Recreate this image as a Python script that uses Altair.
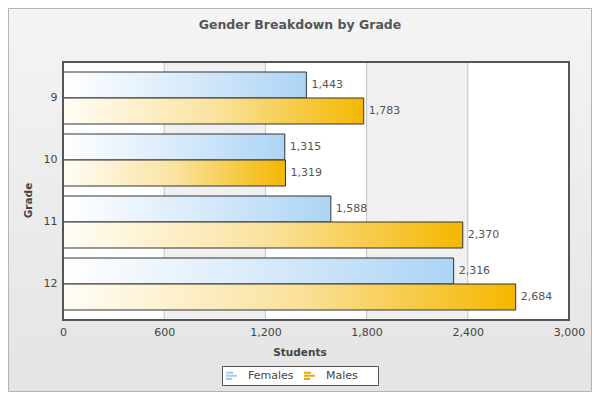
import altair as alt
import pandas as pd

# ---- data ----
grades = ["9", "10", "11", "12"]
females = [1443, 1315, 1588, 2316]
males = [1783, 1319, 2370, 2684]
genders = ["Females", "Males"]
x_ticks = [0, 600, 1200, 1800, 2400, 3000]
band_starts = [0, 600, 1200, 1800, 2400]
band_ends = [600, 1200, 1800, 2400, 3000]
band_fill = ["#ffffff", "#f0f0f0", "#ffffff", "#f0f0f0", "#ffffff"]
grid_vals = [600, 1200, 1800, 2400]
title_text = "Gender Breakdown by Grade"

rows = []
for g, f, m in zip(grades, females, males):
    rows.append({"Grade": g, "Gender": "Females", "Students": f})
    rows.append({"Grade": g, "Gender": "Males", "Students": m})
df = pd.DataFrame(rows)

bands = pd.DataFrame({"start": band_starts, "end": band_ends, "fill": band_fill})
grid = pd.DataFrame({"v": grid_vals})

W, H = 506, 258
PL, PT = 55, 54
TOTW, TOTH = 584, 384
PR, PB = TOTW - PL - W, TOTH - PT - H
FONT = "DejaVu Sans"

xscale = alt.Scale(domain=[0, 3000], nice=False, zero=True)
x_axis = alt.Axis(values=x_ticks, format=",d", grid=False, ticks=False, domain=False,
                  zindex=1, labelFlush=False, labelPadding=6, labelFont=FONT,
                  labelFontSize=11, labelColor="#444", title="Students",
                  titleFont=FONT, titleFontSize=10.5, titleFontWeight="bold",
                  titleColor="#444", titleX=236.5, titleY=32, titleAlign="center",
                  titleBaseline="middle")
y_axis = alt.Axis(ticks=False, domain=False, grid=False, zindex=1, labelPadding=6,
                  labelFont=FONT, labelFontSize=11, labelColor="#444", title="Grade",
                  titleFont=FONT, titleFontSize=10.5, titleFontWeight="bold",
                  titleColor="#444", titleAngle=-90, titleX=-35, titleY=138,
                  titleAlign="center", titleBaseline="middle")
yscale = alt.Scale(paddingInner=10 / 62, paddingOuter=10 / 62)
yoff_scale = alt.Scale(domain=genders, paddingInner=0, paddingOuter=0)

one = alt.Data(values=[{"k": 1}])

# page background (vertical gradient)
bg = alt.Chart(one).mark_rect(
    fill={"gradient": "linear", "x1": 0, "y1": 0, "x2": 0, "y2": 1,
          "stops": [{"offset": 0, "color": "#f4f4f4"}, {"offset": 1, "color": "#e4e4e4"}]},
    stroke="#b4b4b4", strokeWidth=1,
).encode(x=alt.value(-PL + 0.5), x2=alt.value(W + PR - 0.5),
         y=alt.value(-PT + 0.5), y2=alt.value(H + PB - 0.5))

title = alt.Chart(one).mark_text(
    text=title_text, font=FONT, fontSize=12.5, fontWeight="bold", color="#555",
    align="center", baseline="alphabetic",
).encode(x=alt.value(237), y=alt.value(-33))

# legend frame (box behind the legend entries)
legend_box = alt.Chart(one).mark_rect(fill="#ffffff", stroke="#555", strokeWidth=1).encode(
    x=alt.value(159.5), x2=alt.value(315.5), y=alt.value(304.5), y2=alt.value(323.5))

# alternating plot bands
band_layer = alt.Chart(bands).mark_rect().encode(
    x=alt.X("start:Q", scale=xscale, axis=x_axis),
    x2="end:Q",
    y=alt.value(0), y2=alt.value(H),
    fill=alt.Fill("fill:N", scale=None),
)

grid_layer = alt.Chart(grid).mark_rule(color="#c4c4c4", strokeWidth=1).encode(
    x=alt.X("v:Q", scale=xscale), y=alt.value(0), y2=alt.value(H)
)

fem_grad = {"gradient": "linear", "x1": 0, "y1": 0, "x2": 1, "y2": 0,
            "stops": [{"offset": 0, "color": "#ffffff"},
                      {"offset": 0.5, "color": "#d9ebfa"},
                      {"offset": 1, "color": "#acd4f5"}]}
male_grad = {"gradient": "linear", "x1": 0, "y1": 0, "x2": 1, "y2": 0,
             "stops": [{"offset": 0, "color": "#fffdf6"},
                       {"offset": 0.5, "color": "#fae3a0"},
                       {"offset": 1, "color": "#f4b700"}]}

base = alt.Chart(df).encode(
    y=alt.Y("Grade:N", sort=grades, scale=yscale, axis=y_axis),
    yOffset=alt.YOffset("Gender:N", sort=genders, scale=yoff_scale),
    x=alt.X("Students:Q", scale=xscale),
)

fem_bar = base.transform_filter(alt.datum.Gender == "Females").mark_bar(
    fill=fem_grad, stroke="#333", strokeWidth=1)
male_bar = base.transform_filter(alt.datum.Gender == "Males").mark_bar(
    fill=male_grad, stroke="#333", strokeWidth=1)

labels = base.mark_text(align="left", baseline="middle", dx=5, font=FONT,
                        fontSize=11, color="#555").encode(
    text=alt.Text("Students:Q", format=",d"))

# invisible layer that only provides the legend entries
legend_path = ("M-1,-0.75H0.3V-0.35H-1Z M-1,-0.2H1V0.2H-1Z M-1,0.35H0.1V0.75H-1Z")
legend_layer = base.mark_bar(opacity=0).encode(
    color=alt.Color("Gender:N", sort=genders,
                    scale=alt.Scale(domain=genders, range=["#a8cdee", "#e3aa12"]),
                    legend=alt.Legend(orient="none", legendX=159, legendY=304,
                                      direction="horizontal", title=None,
                                      symbolType=legend_path, symbolSize=121,
                                      symbolStrokeWidth=0, symbolOpacity=1,
                                      labelFont=FONT, labelFontSize=11,
                                      labelColor="#444", labelOffset=11,
                                      columnPadding=10, padding=4))
)

border = alt.Chart(one).mark_rect(fill=None, stroke="#555", strokeWidth=2).encode(
    x=alt.value(0), x2=alt.value(W), y=alt.value(0), y2=alt.value(H))

chart = alt.layer(bg, title, legend_box, band_layer, grid_layer, fem_bar, male_bar,
                  labels, legend_layer, border).properties(
    width=W, height=H,
    autosize=alt.AutoSizeParams(type="none"),
    padding={"left": PL, "top": PT, "right": PR, "bottom": PB},
).configure_view(stroke=None)

chart.save("out.html", embed_options={"renderer": "svg", "actions": False})
